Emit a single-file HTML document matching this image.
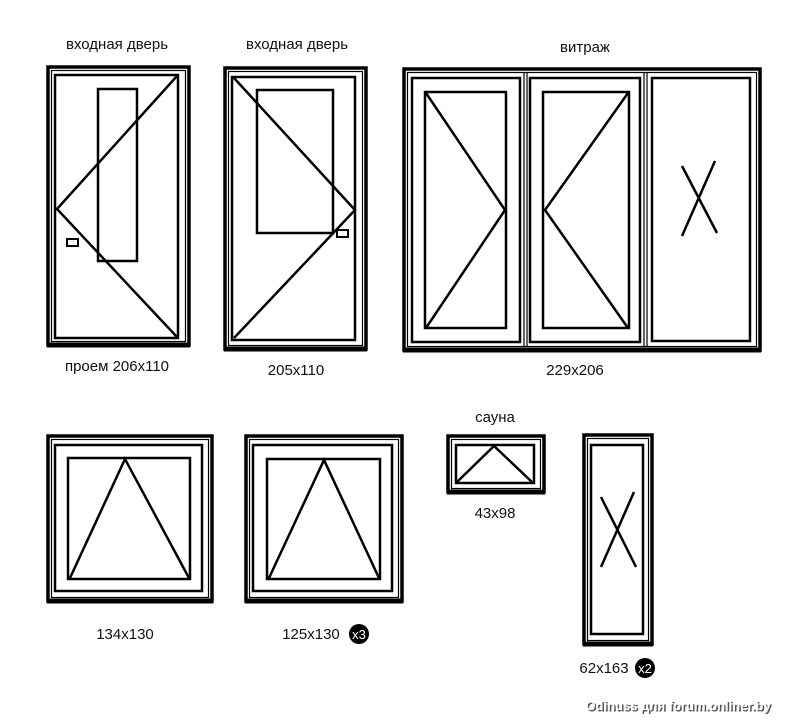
<!DOCTYPE html>
<html><head><meta charset="utf-8"><style>
html,body{margin:0;padding:0;background:#fff;width:800px;height:728px;overflow:hidden}
svg{display:block}
text{font-family:"Liberation Sans","DejaVu Sans",sans-serif;font-size:15px;fill:#111;text-anchor:middle}
</style></head><body>
<svg width="800" height="728" viewBox="0 0 800 728" xmlns="http://www.w3.org/2000/svg">
<g fill="none" stroke="#000" stroke-linejoin="miter">
<!-- Door 1 -->
<rect x="48" y="67" width="141" height="278" stroke-width="3.5"/>
<rect x="51.5" y="70.5" width="134" height="271" stroke-width="1.2"/>
<line x1="47" y1="345" x2="190" y2="345" stroke-width="5"/>
<rect x="55" y="75" width="123" height="263" stroke-width="2.5"/>
<rect x="98" y="89" width="39" height="172" stroke-width="2.5"/>
<polyline points="177,76 57,209 177,337" stroke-width="2.5"/>
<rect x="67" y="239" width="11" height="7" stroke-width="2"/>
<!-- Door 2 -->
<rect x="225" y="68" width="141" height="281" stroke-width="3.5"/>
<rect x="228.5" y="71.5" width="134" height="274" stroke-width="1.2"/>
<line x1="224" y1="349" x2="367" y2="349" stroke-width="5"/>
<rect x="232" y="77" width="123" height="263" stroke-width="2.5"/>
<rect x="257" y="90" width="76" height="143" stroke-width="2.5"/>
<polyline points="234,78 355,210 234,338" stroke-width="2.5"/>
<rect x="337" y="230" width="11" height="7" stroke-width="2"/>
<!-- Vitrage -->
<rect x="404" y="69" width="356" height="281" stroke-width="3.5"/>
<rect x="407.5" y="72.5" width="349" height="274" stroke-width="1.2"/>
<line x1="403" y1="350" x2="761" y2="350" stroke-width="5"/>
<line x1="524" y1="72" x2="524" y2="347" stroke-width="1.2"/>
<line x1="527" y1="72" x2="527" y2="347" stroke-width="1.2"/>
<line x1="644" y1="72" x2="644" y2="347" stroke-width="1.2"/>
<line x1="647" y1="72" x2="647" y2="347" stroke-width="1.2"/>
<rect x="412" y="78" width="108" height="264" stroke-width="2.5"/>
<rect x="425" y="92" width="81" height="236" stroke-width="2.5"/>
<polyline points="426,93 505,210 426,328" stroke-width="2.5"/>
<rect x="530" y="78" width="110" height="264" stroke-width="2.5"/>
<rect x="543" y="92" width="86" height="236" stroke-width="2.5"/>
<polyline points="628,93 545,210 628,328" stroke-width="2.5"/>
<rect x="652" y="78" width="98" height="263" stroke-width="2.5"/>
<line x1="682" y1="166" x2="717" y2="233" stroke-width="2.5"/>
<line x1="715" y1="161" x2="682" y2="236" stroke-width="2.5"/>
<!-- Window 1 -->
<rect x="48" y="436" width="164" height="165" stroke-width="3.5"/>
<rect x="51.5" y="439.5" width="157" height="158" stroke-width="1.2"/>
<line x1="47" y1="601" x2="213" y2="601" stroke-width="5"/>
<rect x="55" y="445" width="147" height="146" stroke-width="2.5"/>
<rect x="68" y="458" width="122" height="121" stroke-width="2.5"/>
<polyline points="70,578 125,459 189,578" stroke-width="2.5"/>
<!-- Window 2 -->
<rect x="246" y="436" width="156" height="165" stroke-width="3.5"/>
<rect x="249.5" y="439.5" width="149" height="158" stroke-width="1.2"/>
<line x1="245" y1="601" x2="403" y2="601" stroke-width="5"/>
<rect x="253" y="445" width="139" height="146" stroke-width="2.5"/>
<rect x="267" y="459" width="113" height="120" stroke-width="2.5"/>
<polyline points="269,578 324,460 379,578" stroke-width="2.5"/>
<!-- Sauna -->
<rect x="448" y="436" width="96" height="56" stroke-width="3.5"/>
<rect x="451.5" y="439.5" width="89" height="49" stroke-width="1.2"/>
<line x1="447" y1="492" x2="545" y2="492" stroke-width="5"/>
<rect x="456" y="445" width="78" height="38" stroke-width="2.5"/>
<polyline points="457,482 494,446 532,482" stroke-width="2.5"/>
<!-- Tall -->
<rect x="584" y="435" width="68" height="209" stroke-width="3.5"/>
<rect x="587.5" y="438.5" width="61" height="202" stroke-width="1.2"/>
<line x1="583" y1="644" x2="653" y2="644" stroke-width="5"/>
<rect x="591" y="445" width="52" height="189" stroke-width="2.5"/>
<line x1="601" y1="497" x2="636" y2="567" stroke-width="2.5"/>
<line x1="634" y1="492" x2="601" y2="567" stroke-width="2.5"/>
</g>
<text x="117" y="49">входная дверь</text>
<text x="297" y="49">входная дверь</text>
<text x="585" y="52">витраж</text>
<text x="117" y="371">проем 206x110</text>
<text x="296" y="375">205x110</text>
<text x="575" y="375">229x206</text>
<text x="125" y="639">134x130</text>
<text x="311" y="639">125x130</text>
<circle cx="359" cy="634" r="10" fill="#000"/>
<text x="359" y="639" style="fill:#fff;font-size:13px">x3</text>
<text x="495" y="422">сауна</text>
<text x="495" y="518">43x98</text>
<text x="604" y="673">62x163</text>
<circle cx="645" cy="668" r="10" fill="#000"/>
<text x="645" y="673" style="fill:#fff;font-size:13px">x2</text>
<text x="678" y="710" style="font-weight:bold;font-size:13px;fill:#555" transform="translate(1.5,1.5)">Odinuss для forum.onliner.by</text>
<text x="678" y="710" style="font-weight:bold;font-size:13px;fill:#fff">Odinuss для forum.onliner.by</text>
</svg>
</body></html>
